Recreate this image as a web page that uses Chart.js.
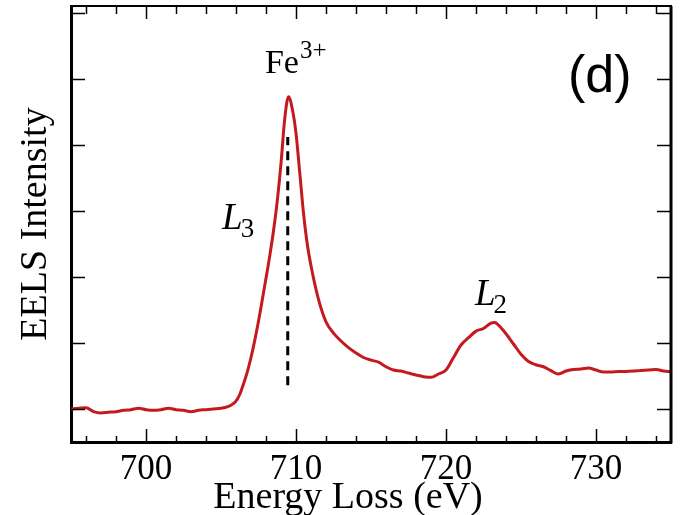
<!DOCTYPE html>
<html>
<head>
<meta charset="utf-8">
<script src="https://cdn.jsdelivr.net/npm/chart.js@4"></script>
<style>
  html, body { margin: 0; padding: 0; background: #fff; }
  #wrap { width: 682px; height: 515px; }
</style>
</head>
<body>
<div id="wrap"><canvas id="c" width="682" height="515"></canvas></div>
<script>
// ---- data ----
const energyEV = [
  695.0, 695.5, 696.0, 696.5, 697.0, 697.5, 698.0, 698.5, 699.0, 699.5,
  700.0, 700.5, 701.0, 701.5, 702.0, 702.5, 703.0, 703.5, 704.0, 704.5,
  705.0, 705.5, 705.75, 706.0, 706.25, 706.5, 706.75, 707.0, 707.25, 707.5,
  707.75, 708.0, 708.25, 708.5, 708.75, 709.0, 709.25, 709.5, 709.75, 710.0,
  710.25, 710.5, 710.75, 711.0, 711.5, 712.0, 712.5, 713.0, 713.5, 714.0,
  714.5, 715.0, 715.5, 716.0, 716.5, 717.0, 717.5, 718.0, 718.5, 719.0,
  719.5, 720.0, 720.5, 721.0, 721.5, 722.0, 722.5, 723.0, 723.25, 723.5,
  724.0, 724.5, 725.0, 725.5, 726.0, 726.5, 727.0, 727.5, 728.0, 728.5,
  729.0, 729.5, 730.0, 730.5, 731.0, 731.5, 732.0, 732.5, 733.0, 733.5,
  734.0, 734.5, 735.0
];
const intensity = [
  0.00, 0.01, 0.02, -0.04, -0.06, -0.05, -0.04, -0.02, -0.01, 0.01,
  -0.01, -0.02, -0.01, 0.01, -0.01, -0.02, -0.04, -0.02, -0.01, 0.00,
  0.01, 0.04, 0.07, 0.12, 0.22, 0.38, 0.56, 0.78, 1.04, 1.33,
  1.65, 1.98, 2.32, 2.70, 3.15, 3.72, 4.40, 4.73, 4.55, 4.18,
  3.58, 2.97, 2.50, 2.17, 1.66, 1.32, 1.15, 1.03, 0.93, 0.85,
  0.78, 0.74, 0.71, 0.64, 0.59, 0.575, 0.545, 0.515, 0.49, 0.48,
  0.53, 0.59, 0.78, 0.97, 1.08, 1.18, 1.22, 1.30, 1.31, 1.27,
  1.14, 0.985, 0.83, 0.72, 0.67, 0.64, 0.58, 0.53, 0.575, 0.60,
  0.605, 0.62, 0.59, 0.56, 0.56, 0.57, 0.57, 0.575, 0.585, 0.59,
  0.60, 0.575, 0.565
];
// vertical dashed marker at the L3 maximum
const markerEV = [709.45, 709.45];
const markerIntensity = [0.36, 4.12];

const xMajorTicks = [700, 710, 720, 730];
const xMinorTicks = [696, 698, 700, 702, 704, 706, 708, 710, 712, 714, 716, 718, 720, 722, 724, 726, 728, 730, 732, 734];
const yTicks = [0, 1, 2, 3, 4, 5, 6];
const xTitle = 'Energy Loss (eV)';
const yTitle = 'EELS Intensity';
const panelLabel = '(d)';

// ---- styling / layout ----
const SERIF = '"Liberation Serif", "Times New Roman", "DejaVu Serif", serif';
const SANS = '"Liberation Sans", Arial, sans-serif';

const toXY = (xs, ys) => xs.map((v, i) => ({ x: v, y: ys[i] }));

const framePlugin = {
  id: 'frameAndLabels',
  afterDatasetsDraw(chart) {
    const { ctx, chartArea: a, scales } = chart;
    const x = scales.x, y = scales.y;
    const seg = (x1, y1, x2, y2) => { ctx.beginPath(); ctx.moveTo(x1, y1); ctx.lineTo(x2, y2); ctx.stroke(); };
    ctx.save();
    ctx.strokeStyle = '#000';
    ctx.lineWidth = 1.5;
    xMinorTicks.forEach(v => {
      const px = Math.round(x.getPixelForValue(v)) + 0.5;
      const major = xMajorTicks.includes(v);
      seg(px, a.bottom, px, a.bottom - (major ? 13 : 6));
      seg(px, a.top, px, a.top + (major ? 13 : 8));
    });
    yTicks.forEach(v => {
      const py = Math.round(y.getPixelForValue(v)) + 0.5;
      seg(a.left, py, a.left + 14, py);
      seg(a.right, py, a.right - 14, py);
    });
    // top and right frame lines
    ctx.lineWidth = 2;
    seg(a.left - 1, a.top, a.right + 1, a.top);
    ctx.lineWidth = 3;
    seg(a.right, a.top, a.right, a.bottom + 1.5);

    ctx.fillStyle = '#000';
    // x-axis title (sits left of centre in the reference)
    ctx.textAlign = 'center';
    ctx.textBaseline = 'middle';
    ctx.font = '38px ' + SERIF;
    ctx.fillText(xTitle, x.getPixelForValue(713.47), chart.height - 17);

    // annotations
    ctx.textBaseline = 'alphabetic';
    ctx.textAlign = 'left';
    // Fe3+
    let px = x.getPixelForValue(707.93), py = y.getPixelForValue(5.09);
    ctx.font = '34px ' + SERIF;
    ctx.fillText('Fe', px, py);
    let w = ctx.measureText('Fe').width;
    ctx.font = '25px ' + SERIF;
    ctx.fillText('3+', px + w + 1, py - 15);
    // (d)
    px = x.getPixelForValue(728.13); py = y.getPixelForValue(4.80);
    ctx.font = '52px ' + SANS;
    ctx.fillText(panelLabel, px, py);
    // L3
    px = x.getPixelForValue(705.07); py = y.getPixelForValue(2.73);
    ctx.font = 'italic 37px ' + SERIF;
    ctx.fillText('L', px, py);
    w = ctx.measureText('L').width;
    ctx.font = '27px ' + SERIF;
    ctx.fillText('3', px + w - 2, py + 8);
    // L2
    px = x.getPixelForValue(721.93); py = y.getPixelForValue(1.58);
    ctx.font = 'italic 37px ' + SERIF;
    ctx.fillText('L', px, py);
    w = ctx.measureText('L').width;
    ctx.font = '27px ' + SERIF;
    ctx.fillText('2', px + w - 2, py + 8);
    ctx.restore();
  }
};

new Chart(document.getElementById('c'), {
  type: 'line',
  data: {
    datasets: [
      {
        data: toXY(energyEV, intensity),
        borderColor: '#c41a1f',
        borderWidth: 3,
        pointRadius: 0,
        tension: 0.35,
        cubicInterpolationMode: 'monotone',
        fill: false
      },
      {
        data: toXY(markerEV, markerIntensity),
        borderColor: '#000',
        borderWidth: 3,
        borderDash: [9, 6],
        pointRadius: 0,
        fill: false
      }
    ]
  },
  options: {
    responsive: false,
    animation: false,
    devicePixelRatio: 1,
    layout: { padding: { left: 0, right: 11, top: 6, bottom: 0 } },
    plugins: { legend: { display: false }, tooltip: { enabled: false } },
    scales: {
      x: {
        type: 'linear',
        min: 695, max: 735,
        afterBuildTicks: s => { s.ticks = xMajorTicks.map(v => ({ value: v })); },
        afterFit: s => { s.height = 73; },
        grid: { display: true, drawOnChartArea: false, drawTicks: false },
        border: { display: true, color: '#000', width: 3 },
        ticks: { color: '#000', padding: 10, maxRotation: 0, font: { family: SERIF, size: 35, lineHeight: 1 } },
        title: { display: false, text: xTitle }
      },
      y: {
        type: 'linear',
        min: -0.5, max: 6.106,
        afterBuildTicks: s => { s.ticks = yTicks.map(v => ({ value: v })); },
        afterFit: s => { s.width = 71; },
        grid: { display: true, drawOnChartArea: false, drawTicks: false },
        border: { display: true, color: '#000', width: 3 },
        ticks: { display: false },
        title: { display: true, text: yTitle, color: '#000', padding: { top: 17, bottom: 0 }, font: { family: SERIF, size: 38, lineHeight: 1 } }
      }
    }
  },
  plugins: [framePlugin]
});
</script>
</body>
</html>
